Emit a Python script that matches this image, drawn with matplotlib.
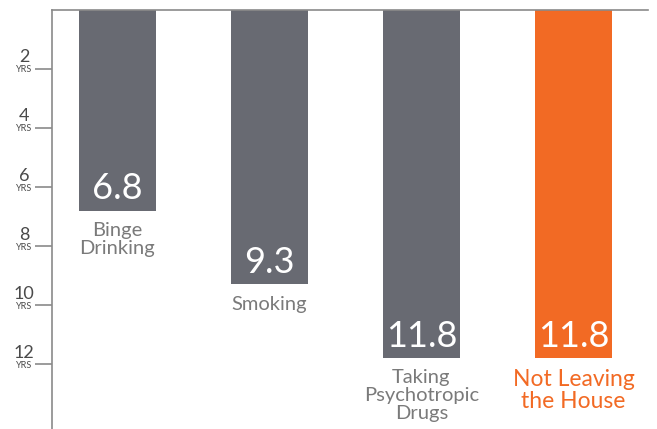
import matplotlib.pyplot as plt
from matplotlib import transforms

plt.rcParams["font.family"] = ["Lato", "DejaVu Sans"]

categories = ["Binge\nDrinking", "Smoking", "Taking\nPsychotropic\nDrugs", "Not Leaving\nthe House"]
years = [6.8, 9.3, 11.8, 11.8]
value_labels = ["6.8", "9.3", "11.8", "11.8"]
tick_years = [2, 4, 6, 8, 10, 12]

GRAY = "#686a72"
ORANGE = "#f26a24"
AXIS = "#8a8a8a"
bar_colors = [GRAY, GRAY, GRAY, ORANGE]
label_colors = ["#7a7a7a", "#7a7a7a", "#7a7a7a", ORANGE]

fig = plt.figure(figsize=(6.57, 4.29), dpi=100)
ax = fig.add_axes([52 / 657, 0.0, 596 / 657, 1 - 10 / 429])

x = range(len(years))
ax.bar(x, years, width=0.507, color=bar_colors, zorder=2)

ax.set_ylim(14.2, 0)
ax.set_xlim(-0.43, 3.49)

for s in ["right", "bottom"]:
    ax.spines[s].set_visible(False)
for s in ["left", "top"]:
    ax.spines[s].set_color(AXIS)
    ax.spines[s].set_linewidth(1.2)

ax.set_xticks([])
ax.set_yticks(tick_years)
ax.set_yticklabels([])
ax.tick_params(axis="y", length=12, width=1.2, color=AXIS, direction="out")

# tick labels: number above, small "YRS" below
trans = transforms.blended_transform_factory(ax.transAxes, ax.transData)
off = 28 / 596
for yv in tick_years:
    ax.text(-off, yv - 0.12, str(yv), transform=trans, ha="center", va="bottom",
            fontsize=13, color="#4a4a4a")
    ax.text(-off, yv - 0.12, "YRS", transform=trans, ha="center", va="top",
            fontsize=6.5, color="#4a4a4a")

for xi, v, lab in zip(x, years, value_labels):
    ax.text(xi, v - 0.18, lab, ha="center", va="bottom", color="white",
            fontsize=26)

for xi, v, cat, c in zip(x, years, categories, label_colors):
    size = 16.5 if c == ORANGE else 14.5
    ax.text(xi, v + 0.38, cat, ha="center", va="top", color=c,
            fontsize=size, linespacing=1.05)

fig.savefig("out.png", dpi=100)
